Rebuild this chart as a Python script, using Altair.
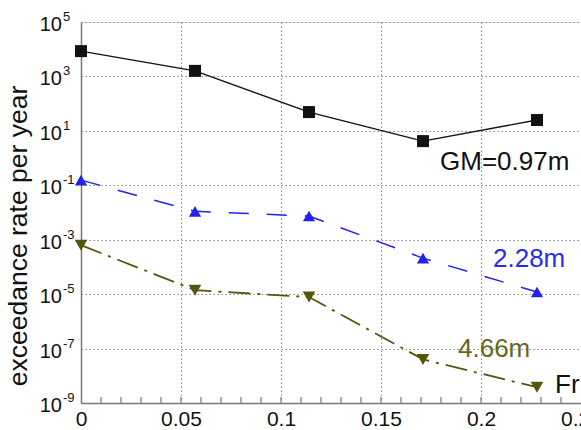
import altair as alt
import pandas as pd

# ---- data ----
fr = [0.0, 0.057, 0.114, 0.171, 0.228]
rate_097 = [8.5e3, 1.6e3, 49, 4.2, 25]
rate_228 = [0.155, 0.011, 0.0074, 2.1e-4, 1.2e-5]
rate_466 = [6.3e-4, 1.4e-5, 7.8e-6, 4.0e-8, 3.8e-9]

x_ticks = [0, 0.05, 0.1, 0.15, 0.2, 0.25]
x_minor = [0.01, 0.02, 0.03, 0.04, 0.05, 0.06, 0.07, 0.08, 0.09, 0.10,
           0.11, 0.12, 0.13, 0.14, 0.15, 0.16, 0.17, 0.18, 0.19, 0.20,
           0.21, 0.22, 0.23, 0.24]
y_ticks = [1e-9, 1e-7, 1e-5, 1e-3, 1e-1, 1e1, 1e3, 1e5]
y_exps = ["-9", "-7", "-5", "-3", "-1", "1", "3", "5"]
y_title = "exceedance rate per year"

labels = ["GM=0.97m", "2.28m", "4.66m", "Fr"]
label_x = [0.1795, 0.206, 0.1885, 0.237]
label_y = [0.36, 1e-4, 4.8e-8, 2.3e-9]
label_colors = ["#111111", "#2a2aee", "#66661f", "#111111"]

FONT = "Liberation Sans"
W, H = 500, 381

xscale = alt.Scale(domain=[0, 0.25], nice=False, zero=False)
yscale = alt.Scale(type="log", domain=[1e-9, 1e5], nice=False)

x_axis = alt.Axis(values=x_ticks, format="~g", title=None, tickSize=0,
                  labelFontSize=21, labelPadding=5, labelFont=FONT,
                  labelColor="#111", labelFlush=False, labelOverlap=False,
                  grid=True, gridDash=[1.5, 2.5], gridColor="#8a8a8a",
                  gridWidth=1, domainColor="#777", domainWidth=1.5)
y_axis = alt.Axis(values=y_ticks, labels=False, ticks=False, title=None,
                  grid=True, gridDash=[1.5, 2.5], gridColor="#8a8a8a",
                  gridWidth=1, domainColor="#777", domainWidth=1.5)

def series(vals, color, dash, shape, size, lw):
    df = pd.DataFrame({"x": fr, "y": vals})
    base = alt.Chart(df).encode(
        x=alt.X("x:Q", scale=xscale, axis=x_axis),
        y=alt.Y("y:Q", scale=yscale, axis=y_axis),
    )
    line_kw = dict(color=color, strokeWidth=lw)
    if dash:
        line_kw["strokeDash"] = dash
    line = base.mark_line(**line_kw)
    pts = base.mark_point(shape=shape, filled=True, size=size, color=color,
                          opacity=1, strokeWidth=0)
    return line + pts

s1 = series(rate_097, "#111111", None, "square", 144, 1.4)
s2 = series(rate_228, "#2222ee", [20, 18], "triangle-up", 150, 1.5)
s3 = series(rate_466, "#55550f", [22, 7, 3, 7], "triangle-down", 160, 1.8)

# inward minor ticks on the x axis
tick_df = pd.DataFrame({"x": x_minor})
minor = alt.Chart(tick_df).mark_rule(color="#777", strokeWidth=1.2).encode(
    x=alt.X("x:Q", scale=xscale),
    y=alt.value(H), y2=alt.value(H - 6),
)

# y tick labels as 10 with superscript exponent
ylab_df = pd.DataFrame({"v": y_ticks, "e": y_exps})
ten = alt.Chart(ylab_df).mark_text(
    text="10", align="right", baseline="alphabetic", dy=9, fontSize=20,
    font=FONT, color="#111"
).encode(x=alt.value(-19), y=alt.Y("v:Q", scale=yscale))
exps = alt.Chart(ylab_df).mark_text(
    align="left", baseline="alphabetic", dy=-1, fontSize=13,
    font=FONT, color="#111"
).encode(x=alt.value(-18), y=alt.Y("v:Q", scale=yscale), text="e:N")

# y axis title
ttl = alt.Chart(pd.DataFrame({"t": [y_title]})).mark_text(
    align="center", baseline="alphabetic", angle=270, fontSize=26.5,
    font=FONT, color="#111"
).encode(x=alt.value(-54), y=alt.value(214), text="t:N")

ann_df = pd.DataFrame({"t": labels, "x": label_x, "y": label_y,
                       "c": label_colors})
ann = alt.Chart(ann_df).mark_text(
    align="left", baseline="alphabetic", fontSize=26, font=FONT
).encode(
    x=alt.X("x:Q", scale=xscale),
    y=alt.Y("y:Q", scale=yscale),
    text="t:N",
    color=alt.Color("c:N", scale=None),
)

chart = alt.layer(minor, s1, s2, s3, ten, exps, ttl, ann).properties(
    width=W, height=H,
    autosize=alt.AutoSizeParams(type="none"),
    padding={"left": 81, "top": 22, "right": 0, "bottom": 27},
).configure_view(stroke=None).configure(background="white")

chart.save("out.html", embed_options={"renderer": "svg", "actions": False})
